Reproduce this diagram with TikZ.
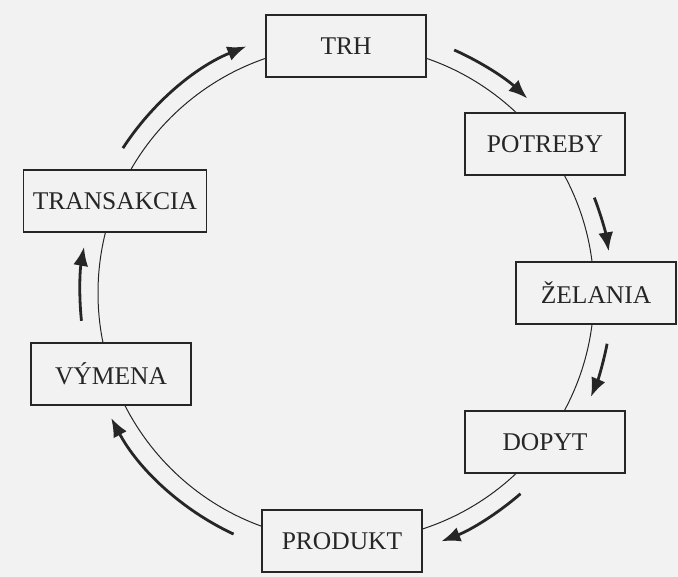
\documentclass[tikz,border=0pt]{standalone}
\usepackage{fontspec}
\setmainfont{Liberation Serif}
\usetikzlibrary{arrows.meta,calc}
\definecolor{bg}{RGB}{242,242,242}
\definecolor{ink}{RGB}{38,38,38}
\tikzset{
  stagebox/.style={draw=ink, line width=1.4pt, fill=bg, text=ink,
    minimum width=160pt, minimum height=62pt, inner sep=0pt,
    font=\fontsize{25.5}{30}\selectfont},
  ring/.style={draw=ink, line width=1pt},
  flowarrow/.style={draw=ink, line width=2.8pt,
    -{Latex[length=19pt,width=15pt]}},
}
\begin{document}
\begin{tikzpicture}[x=1pt,y=1pt]
  \useasboundingbox[fill=bg] (0,0) rectangle (678,-577);
  \coordinate (C) at (346,-293);
  \draw[ring] (C) circle[radius=248];

  \node[stagebox] (trh) at (346,-46) {TRH};
  \node[stagebox] (potreby) at (545,-144) {POTREBY};
  \node[stagebox] (zelania) at (596,-293) {ŽELANIA};
  \node[stagebox] (dopyt) at (545,-442) {DOPYT};
  \node[stagebox] (produkt) at (342,-541) {PRODUKT};
  \node[stagebox] (vymena) at (111,-374) {VÝMENA};
  \node[stagebox, minimum width=183pt] (transakcia) at (115,-201) {TRANSAKCIA};

  \foreach \n/\a/\b in {a1/66/47, a2/21/9, a3/-11/-23, a4/-49/-69,
                        a5/245/208, a6/186/170, a7/147/112} {
    \coordinate (\n) at ($(C)+(\a:266)$);
    \draw[flowarrow] (\n) arc[start angle=\a, end angle=\b, radius=266];
  }
\end{tikzpicture}
\end{document}
